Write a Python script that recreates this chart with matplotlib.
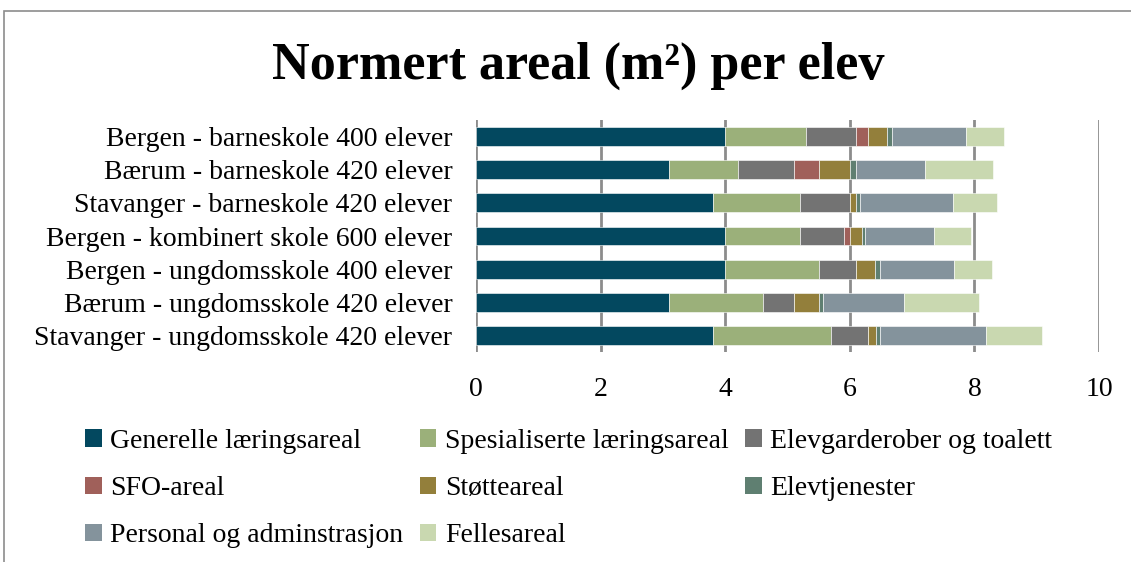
import numpy as np
import matplotlib
matplotlib.use('Agg')
import matplotlib.pyplot as plt
from matplotlib.patches import Patch, Rectangle

plt.rcParams['font.family'] = ['Liberation Serif', 'DejaVu Serif']

# Skoler (ovenfra og ned)
skoler = ['Bergen - barneskole 400 elever',
          'Bærum - barneskole 420 elever',
          'Stavanger - barneskole 420 elever',
          'Bergen - kombinert skole 600 elever',
          'Bergen - ungdomsskole 400 elever',
          'Bærum - ungdomsskole 420 elever',
          'Stavanger - ungdomsskole 420 elever']

kategorier = ['Generelle læringsareal', 'Spesialiserte læringsareal',
              'Elevgarderober og toalett', 'SFO-areal', 'Støtteareal',
              'Elevtjenester', 'Personal og adminstrasjon', 'Fellesareal']

farger = ['#03485f', '#9bb07a', '#737373', '#a0605a', '#937f3b',
          '#5f7f71', '#84939c', '#c9d8b0']

# m2 per elev, en liste per kategori (samme rekkefølge som skoler)
generelle = [4.0, 3.1, 3.8, 4.0, 4.0, 3.1, 3.8]
spesialiserte = [1.3, 1.1, 1.4, 1.2, 1.5, 1.5, 1.9]
garderober = [0.8, 0.9, 0.8, 0.71, 0.6, 0.5, 0.6]
sfo = [0.19, 0.4, 0.0, 0.09, 0.0, 0.0, 0.0]
stotte = [0.3, 0.5, 0.1, 0.19, 0.31, 0.4, 0.12]
elevtjenester = [0.08, 0.1, 0.06, 0.05, 0.07, 0.07, 0.06]
personal = [1.2, 1.1, 1.5, 1.11, 1.2, 1.3, 1.7]
felles = [0.61, 1.1, 0.7, 0.6, 0.6, 1.2, 0.9]

serier = [generelle, spesialiserte, garderober, sfo, stotte,
          elevtjenester, personal, felles]

fig = plt.figure(figsize=(11.31, 5.62), dpi=100)
ax = fig.add_axes([476 / 1131, 1 - 352 / 562, (1099 - 476) / 1131, 232 / 562])

y = np.arange(len(skoler))
venstre = np.zeros(len(skoler))
for verdier, farge, navn in zip(serier, farger, kategorier):
    ax.barh(y, verdier, left=venstre, height=0.57, color=farge, label=navn,
            edgecolor='white', linewidth=0.4, zorder=3)
    venstre += np.array(verdier)

ax.set_ylim(len(skoler) - 0.5, -0.5)
ax.set_xlim(0, 10)
ax.set_xticks(range(0, 11, 2))
ax.set_yticks(y)
ax.set_yticklabels(skoler, fontsize=20)
ax.tick_params(axis='x', labelsize=20, length=0, pad=18)
ax.tick_params(axis='y', length=0, pad=17)
ax.grid(axis='x', color='#8c8c8c', linewidth=2, zorder=0)
for s in ax.spines.values():
    s.set_visible(False)

fig.text(0.511, 1 - 66 / 562, 'Normert areal (m²) per elev', ha='center',
         va='center', fontsize=37.5, fontweight='bold')

# ramme rundt diagrammet
fig.patches.append(Rectangle((4 / 1131, -0.1), 1.2, 1 - 11 / 562 + 0.1,
                             transform=fig.transFigure, fill=False,
                             edgecolor='#8c8c8c', linewidth=1.2))

# legende, fylt kolonnevis slik at den leses radvis
rekkefolge = [0, 3, 6, 1, 4, 7, 2, 5]
handles = [Patch(facecolor=farger[i], edgecolor='none') for i in rekkefolge]
labels = [kategorier[i] for i in rekkefolge]
fig.legend(handles, labels, ncol=3, loc='upper left',
           bbox_to_anchor=(60 / 1131, 1 - 404 / 562), frameon=False,
           fontsize=20, handlelength=0.6, handleheight=0.6,
           handletextpad=0.3, columnspacing=0.6, labelspacing=0.8)

fig.savefig('out.png', dpi=100)
